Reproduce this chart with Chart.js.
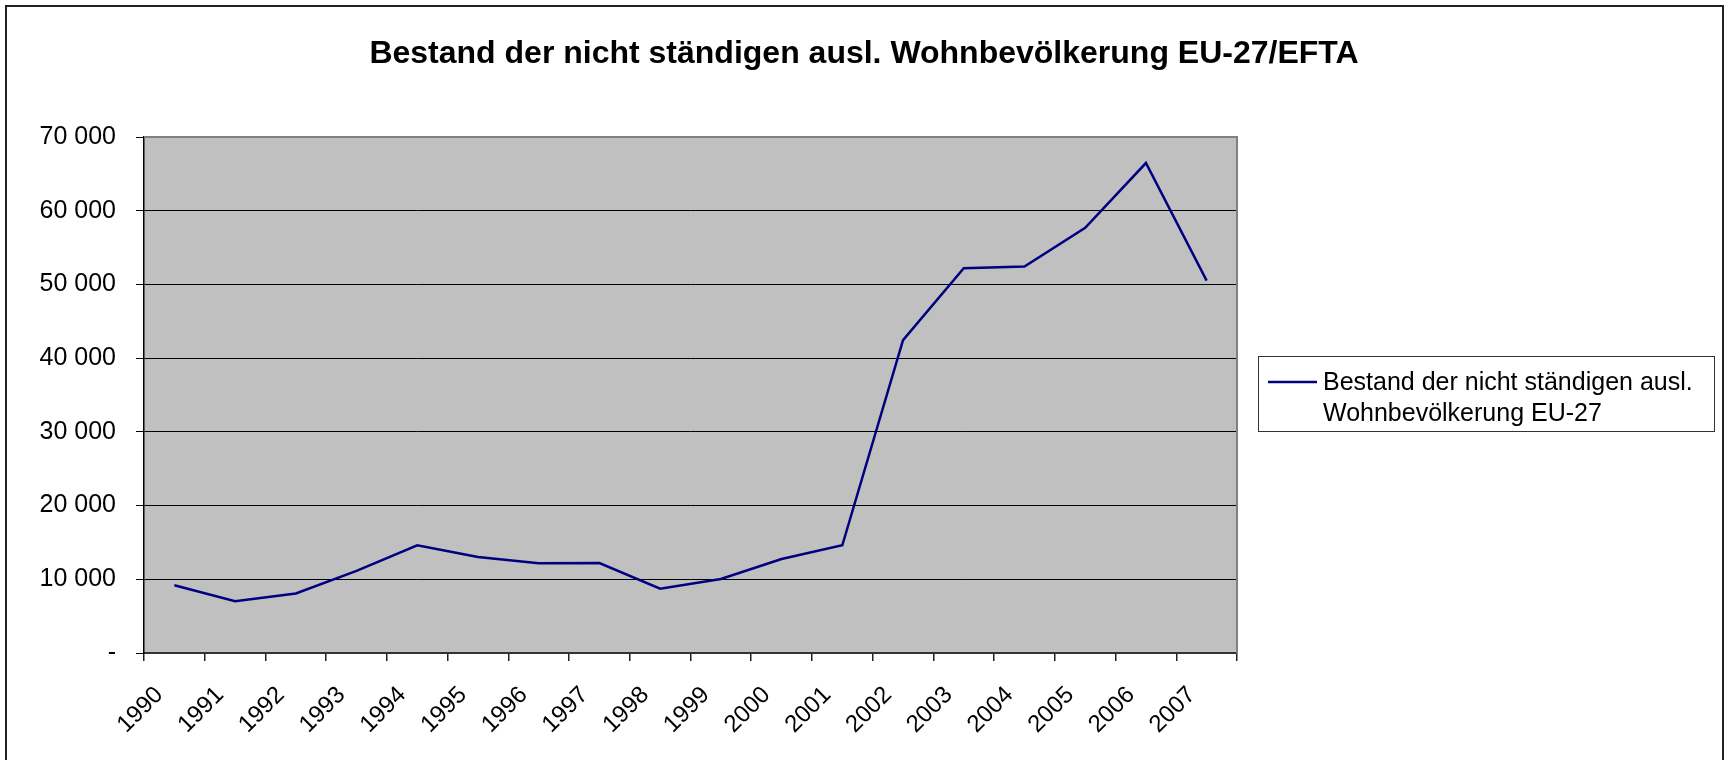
<!DOCTYPE html>
<html>
<head>
<meta charset="utf-8">
<title>Bestand der nicht ständigen ausl. Wohnbevölkerung EU-27/EFTA</title>
<script src="https://cdn.jsdelivr.net/npm/chart.js@4/dist/chart.umd.min.js"></script>
<style>
  html, body { margin: 0; padding: 0; background: #fff; }
  #wrap { width: 1728px; height: 760px; position: relative; }
</style>
</head>
<body>
<div id="wrap"><canvas id="chart" width="1728" height="760"></canvas></div>
<script>
// data
const years = ['1990', '1991', '1992', '1993', '1994', '1995', '1996', '1997', '1998',
               '1999', '2000', '2001', '2002', '2003', '2004', '2005', '2006', '2007'];
const bestand = [9190, 7020, 8080, 11130, 14610, 13010, 12190, 12210, 8720,
                 10040, 12750, 14610, 42430, 52200, 52440, 57670, 66470, 50510];
const seriesLabel = 'Bestand der nicht ständigen ausl. Wohnbevölkerung EU-27';
const legendLines = ['Bestand der nicht ständigen ausl.', 'Wohnbevölkerung EU-27'];
const chartTitle = 'Bestand der nicht ständigen ausl. Wohnbevölkerung EU-27/EFTA';

const FONT = "'Liberation Sans', Arial, sans-serif";
const LINE_COLOR = '#000080';

function fmt(v) {
    if (v === 0) return '-';
    return String(v).replace(/\B(?=(\d{3})+(?!\d))/g, ' ');
}

// grey plot area, title over the whole width, frames and the boxed legend
const excelLook = {
    id: 'excelLook',
    beforeDraw(chart) {
        const { ctx, chartArea: a } = chart;
        ctx.save();
        ctx.fillStyle = '#fff';
        ctx.fillRect(0, 0, chart.width, chart.height);
        ctx.fillStyle = '#c0c0c0';
        ctx.fillRect(a.left, a.top, a.right - a.left, a.bottom - a.top);
        ctx.restore();
    },
    afterDraw(chart) {
        const { ctx, chartArea: a } = chart;
        ctx.save();
        // title, centred on the canvas like the excel one
        ctx.fillStyle = '#000';
        ctx.font = 'bold 32px ' + FONT;
        ctx.textAlign = 'center';
        ctx.textBaseline = 'middle';
        ctx.fillText(chartTitle, chart.width / 2, 54);

        // plot frame top + right
        ctx.strokeStyle = '#808080';
        ctx.lineWidth = 2;
        ctx.beginPath();
        ctx.moveTo(a.left, a.top);
        ctx.lineTo(a.right, a.top);
        ctx.lineTo(a.right, a.bottom);
        ctx.stroke();

        // outer frame
        ctx.strokeStyle = '#222';
        ctx.lineWidth = 2;
        ctx.strokeRect(6, 6, 1717, 800);

        // legend
        const lx = 1258.5, ly = 356.5, lw = 456, lh = 75;
        ctx.fillStyle = '#fff';
        ctx.fillRect(lx, ly, lw, lh);
        ctx.strokeStyle = '#333';
        ctx.lineWidth = 1;
        ctx.strokeRect(lx, ly, lw, lh);
        const ds = chart.data.datasets[0];
        ctx.strokeStyle = ds.borderColor;
        ctx.lineWidth = ds.borderWidth;
        ctx.beginPath();
        ctx.moveTo(1268, 382);
        ctx.lineTo(1317, 382);
        ctx.stroke();
        ctx.fillStyle = '#000';
        ctx.font = '25px ' + FONT;
        ctx.textAlign = 'left';
        ctx.textBaseline = 'middle';
        legendLines.forEach((t, i) => ctx.fillText(t, 1323, 383 + i * 31));
        ctx.restore();
    }
};

new Chart(document.getElementById('chart'), {
    type: 'line',
    data: {
        labels: years,
        datasets: [{
            label: seriesLabel,
            data: bestand,
            borderColor: LINE_COLOR,
            backgroundColor: LINE_COLOR,
            borderWidth: 2.5,
            pointRadius: 0,
            tension: 0
        }]
    },
    options: {
        responsive: false,
        animation: false,
        devicePixelRatio: 1,
        layout: { padding: { left: 0, right: 491, top: 137, bottom: 0 } },
        plugins: {
            legend: { display: false },
            tooltip: { enabled: false },
            title: { display: false }
        },
        scales: {
            x: {
                offset: true,
                grid: {
                    offset: true,
                    drawOnChartArea: false,
                    drawTicks: true,
                    tickLength: 8,
                    tickColor: '#222',
                    lineWidth: 1.5
                },
                border: { display: true, color: '#333', width: 2 },
                ticks: {
                    autoSkip: false,
                    minRotation: 45,
                    maxRotation: 45,
                    padding: 20,
                    labelOffset: -15,
                    color: '#000',
                    font: { family: FONT, size: 24 }
                },
                afterFit(scale) { scale.height = 107; }
            },
            y: {
                min: 0,
                max: 70000,
                grid: {
                    color: c => (c.tick && c.tick.value === 70000) ? '#808080' : '#000',
                    lineWidth: 1,
                    tickLength: 8,
                    tickColor: '#000'
                },
                border: { display: true, color: '#000', width: 1.5 },
                ticks: {
                    stepSize: 10000,
                    padding: 20,
                    color: '#000',
                    font: { family: FONT, size: 25 },
                    callback: v => fmt(v)
                },
                afterFit(scale) { scale.width = 144; }
            }
        }
    },
    plugins: [excelLook]
});
</script>
</body>
</html>
